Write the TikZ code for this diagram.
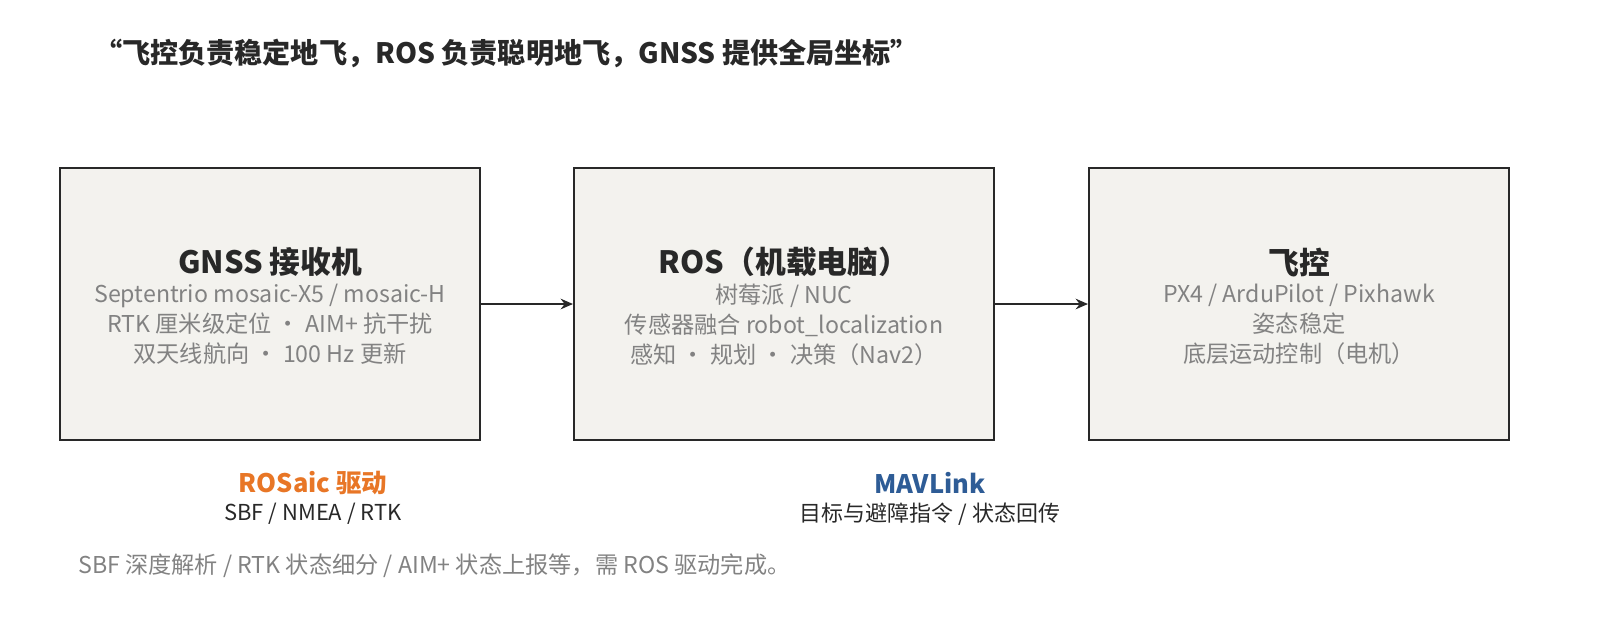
\documentclass[tikz,border=0pt]{standalone}
\usepackage{fontspec}
\setmainfont{Noto Sans CJK SC}
\usetikzlibrary{arrows.meta, positioning}
\definecolor{boxfill}{RGB}{243, 242, 238}
\definecolor{boxline}{RGB}{40, 40, 40}
\definecolor{subgray}{RGB}{130, 130, 130}
\definecolor{rosorange}{RGB}{232, 118, 38}
\definecolor{mavblue}{RGB}{46, 92, 150}

\begin{document}
\begin{tikzpicture}[
    x=0.02cm, y=-0.02cm,
    box/.style={draw=boxline, line width=1.2pt, fill=boxfill, minimum width=8.4cm, minimum height=5.44cm},
    head/.style={font=\fontsize{17.5}{20}\selectfont\bfseries, text=boxline},
    sub/.style={font=\fontsize{13.2}{17}\selectfont, text=subgray, align=center},
    arrow/.style={-{Stealth[length=7pt, width=6pt]}, line width=1.2pt, draw=boxline}
]
    \useasboundingbox (0,0) rectangle (1600,620);
    \node[anchor=west, font=\fontsize{16}{18}\selectfont\bfseries, text=boxline] (title) at (88,53) {“飞控负责稳定地飞，ROS 负责聪明地飞，GNSS 提供全局坐标”};

    \node[box] (gnss) at (270,304) {};
    \node[box] (ros) at (784,304) {};
    \node[box] (fc) at (1299,304) {};

    \node[head] (gnsshead) at (270,262) {GNSS 接收机};
    \node[sub, anchor=north] (gnsssub) at (270,278) {Septentrio mosaic-X5 / mosaic-H\\RTK 厘米级定位 · AIM+ 抗干扰\\双天线航向 · 100 Hz 更新};
    \node[head] (roshead) at (784,262) {ROS（机载电脑）};
    \node[sub, anchor=north] (rossub) at (784,278) {树莓派 / NUC\\传感器融合 robot\_localization\\感知 · 规划 · 决策（Nav2）};
    \node[head] (fchead) at (1299,262) {飞控};
    \node[sub, anchor=north] (fcsub) at (1299,278) {PX4 / ArduPilot / Pixhawk\\姿态稳定\\底层运动控制（电机）};

    \draw[arrow] (gnss.east |- 0,304) coordinate (a1) -- (ros.west |- a1);
    \draw[arrow] (ros.east |- 0,304) coordinate (a2) -- (fc.west |- a2);

    \node[font=\fontsize{14.5}{16}\selectfont\bfseries, text=rosorange] (rosaic) at (313,483) {ROSaic 驱动};
    \node[font=\fontsize{12.5}{14}\selectfont, text=boxline] (rosaicsub) at (313,514) {SBF / NMEA / RTK};
    \node[font=\fontsize{14.5}{16}\selectfont\bfseries, text=mavblue] (mav) at (930,483) {MAVLink};
    \node[font=\fontsize{12.5}{14}\selectfont, text=boxline] (mavsub) at (930,514) {目标与避障指令 / 状态回传};

    \node[anchor=west, font=\fontsize{13.2}{15}\selectfont, text=subgray] (note) at (72,566) {SBF 深度解析 / RTK 状态细分 / AIM+ 状态上报等，需 ROS 驱动完成。};
\end{tikzpicture}
\end{document}
